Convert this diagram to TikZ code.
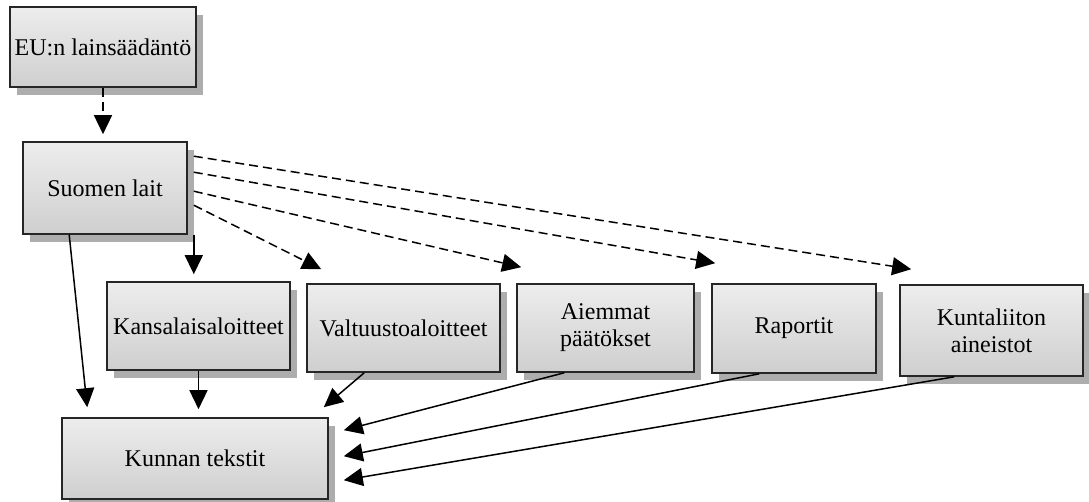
\documentclass[tikz,border=0pt]{standalone}
\usepackage{fontspec}
\setmainfont{Liberation Serif}
\usetikzlibrary{calc}
\usetikzlibrary{arrows.meta}
\usetikzlibrary{shadows}

\tikzset{
  box/.style={draw=black!85, line width=1.6pt, inner sep=2pt, align=center,
    top color=black!7, bottom color=black!19,
    drop shadow={shadow xshift=7pt, shadow yshift=-8pt, fill=black!32, opacity=1},
    font=\fontsize{24}{27}\selectfont},
  arr/.style={line width=1.5pt, -{Triangle[width=18pt,length=19pt]}},
  dasharr/.style={arr, dash pattern=on 9pt off 5pt}
}

\begin{document}
\begin{tikzpicture}[x=1pt,y=-1pt]
        \useasboundingbox (0,0) rectangle (1089,502);
        % the boxes
        \node[box, minimum width=186pt, minimum height=80pt] (eu) at (103,47) {EU:n lainsäädäntö};
        \node[box, minimum width=164pt, minimum height=92pt] (suomen) at (105,188) {Suomen lait};
        \node[box, minimum width=183pt, minimum height=88pt] (kansa) at (198.5,326) {Kansalaisaloitteet};
        \node[box, minimum width=193pt, minimum height=88pt] (valt) at (403.5,328) {Valtuustoaloitteet};
        \node[box, minimum width=177pt, minimum height=88pt] (aiem) at (605.5,328) {Aiemmat\\päätökset};
        \node[box, minimum width=164pt, minimum height=89pt] (rap) at (794,328.5) {Raportit};
        \node[box, minimum width=183pt, minimum height=91pt] (kunt) at (991.5,330.5) {Kuntaliiton\\aineistot};
        \node[box, minimum width=266pt, minimum height=81pt] (kunnan) at (195,458.5) {Kunnan tekstit};
        % from EU and Suomen lait
        \draw[dasharr, shorten >=7pt] (eu.south) -- (eu.south |- suomen.north);
        \coordinate (s1) at ($(suomen.south east)+(6,0)$);
        \draw[arr, shorten >=7pt] (s1) -- (s1 |- kansa.north);
        \foreach \dy/\tgt/\ox/\oy in {15/kunt/12/-15, 31/rap/4/-20, 50/aiem/5/-16, 64/valt/15/-14}
          \draw[dasharr] ($(suomen.north east)+(6,\dy)$) -- ($(\tgt.north west)+(\ox,\oy)$);
        % into Kunnan tekstit
        \draw[arr] ($(suomen.south west)+(47,0)$) -- ($(kunnan.north west)+(26,-10)$);
        \draw[arr, shorten >=8pt] (kansa.south) -- (kansa.south |- kunnan.north);
        \draw[arr] ($(valt.south west)+(58,0)$) -- ($(kunnan.north east)+(-5,-10)$);
        \foreach \src/\sx/\ey in {aiem/48/13, rap/48/39, kunt/55/63}
          \draw[arr] ($(\src.south west)+(\sx,0)$) -- ($(kunnan.north east)+(15,\ey)$);
\end{tikzpicture}
\end{document}
